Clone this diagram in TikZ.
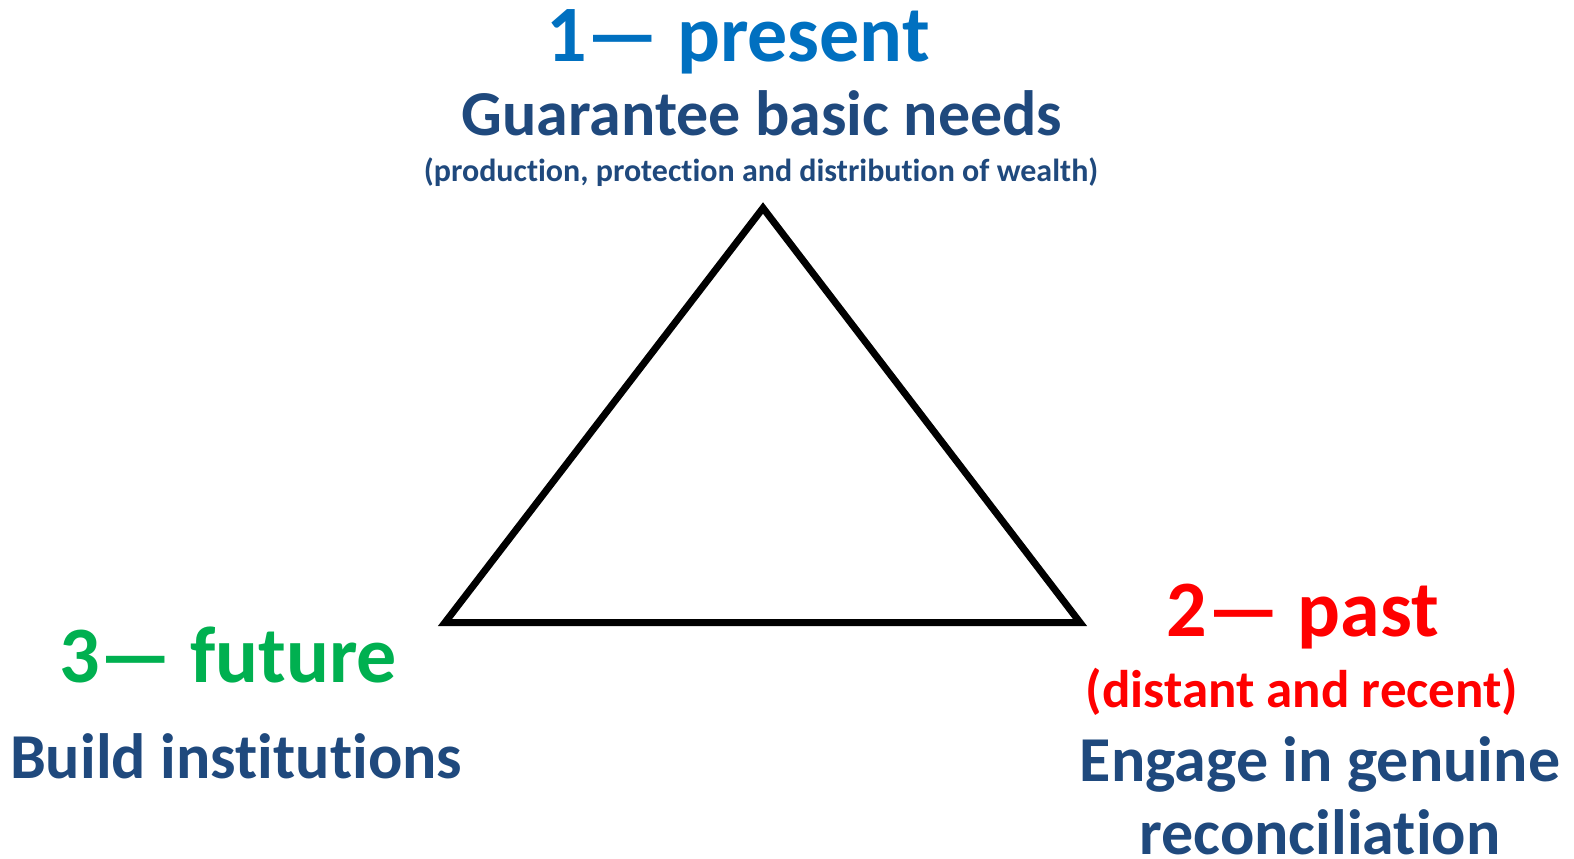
\documentclass[tikz,border=0pt]{standalone}
\usepackage{fontspec}
\setmainfont{Carlito}[Ligatures=NoCommon]
\definecolor{presentblue}{HTML}{0070C0}
\definecolor{textblue}{HTML}{1F497D}
\definecolor{pastred}{HTML}{FF0000}
\definecolor{futuregreen}{HTML}{00B050}
\begin{document}
\begin{tikzpicture}[x=1pt,y=-1pt,
    txt/.style={anchor=base, inner sep=0pt, font=\bfseries}]
    % Parametry
    \def\titlesz{\fontsize{80}{90}\selectfont}  % numbered headings
    \def\mainsz{\fontsize{64}{76}\selectfont}   % main lines
    \def\smallsz{\fontsize{32}{40}\selectfont}  % remark in brackets

    \useasboundingbox (0,0) rectangle (1574,859);

    % Trojkat
    \draw[line width=7pt, line join=miter] (763,208) coordinate (top)
        -- (445,622.5) coordinate (left) -- (1080,622.5) coordinate (right) -- cycle;

    % 1 - present
    \node[txt, presentblue, font=\bfseries\titlesz] (present) at (738,62) {1— present};
    \node[txt, textblue, font=\bfseries\mainsz] (needs) at (762,135) {Guarantee basic needs};
    \node[txt, textblue, font=\bfseries\smallsz] (wealth) at (761,181) {(production, protection and distribution of wealth)};

    % 2 - past
    \node[txt, pastred, font=\bfseries\titlesz] (past) at (1303,636) {2— past};
    \node[txt, pastred, font=\bfseries\fontsize{53}{60}\selectfont] (distant) at (1302,707) {(distant and recent)};
    \node[txt, textblue, font=\bfseries\mainsz] (engage) at (1320,781) {Engage in genuine};
    \node[txt, textblue, font=\bfseries\mainsz] (reconcile) at (1320,854) {reconciliation};

    % 3 - future
    \node[txt, futuregreen, font=\bfseries\titlesz] (future) at (228,682) {3— future};
    \node[txt, textblue, font=\bfseries\mainsz] (build) at (236,778) {Build institutions};
\end{tikzpicture}
\end{document}
